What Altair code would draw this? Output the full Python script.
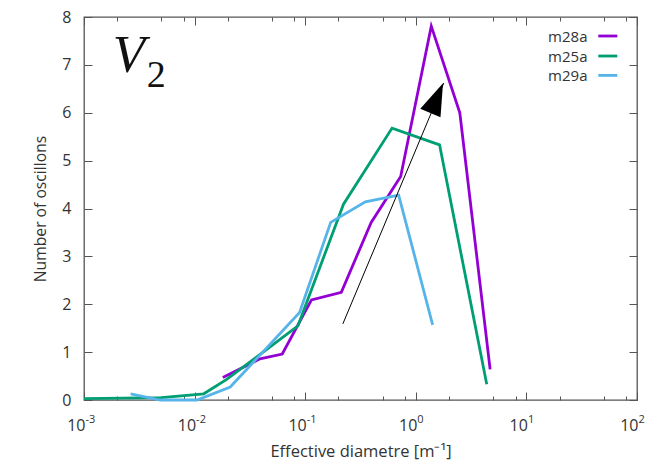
import altair as alt
import pandas as pd

# ---- data ----
series_names = ["m28a", "m25a", "m29a"]
series_colors = ["#9400D3", "#009E73", "#56B4E9"]

m28a_x = [0.0180, 0.039, 0.062, 0.114, 0.212, 0.395, 0.73, 1.38, 2.5, 4.7]
m28a_y = [0.47, 0.86, 0.96, 2.09, 2.25, 3.71, 4.67, 7.81, 6.0, 0.64]

m25a_x = [0.001, 0.005, 0.0121, 0.0195, 0.036, 0.086, 0.222, 0.61, 1.64, 4.38]
m25a_y = [0.03, 0.05, 0.13, 0.43, 0.89, 1.55, 4.09, 5.68, 5.33, 0.33]

m29a_x = [0.00264, 0.0049, 0.0105, 0.021, 0.089, 0.17, 0.35, 0.70, 1.42]
m29a_y = [0.13, 0.0, 0.0, 0.27, 1.83, 3.71, 4.14, 4.28, 1.57]

arrow_start = [0.219, 1.59]
arrow_tip = [1.79, 6.62]
arrow_head_center = [1.545, 6.305]
arrow_angle = 23

x_major = [0.001, 0.01, 0.1, 1, 10, 100]
x_exps = ["-3", "-2", "-1", "0", "1", "2"]
x_minor = [m * d for d in [0.001, 0.01, 0.1, 1, 10] for m in (2, 5, 8)]
y_ticks = [0, 1, 2, 3, 4, 5, 6, 7, 8]

label_V = ["V", 0.001817, 6.847]
label_2 = ["2", 0.00369, 6.53]

# legend key placement (in data units, top-right inside the frame)
legend_text_x = 35.68
legend_text_y = [7.478, 7.060, 6.655]
legend_line_x = [44.67, 66.37]
legend_line_y = [7.603, 7.185, 6.780]

# ---- tables ----
rows = []
for name, xs_, ys_ in zip(series_names, [m28a_x, m25a_x, m29a_x], [m28a_y, m25a_y, m29a_y]):
    for a, b in zip(xs_, ys_):
        rows.append({"series": name, "d": a, "n": b})
df_lines = pd.DataFrame(rows)
df_arrow = pd.DataFrame([{"x0": arrow_start[0], "y0": arrow_start[1], "x1": arrow_tip[0], "y1": arrow_tip[1]}])
df_head = pd.DataFrame([{"hx": arrow_head_center[0], "hy": arrow_head_center[1]}])
df_V = pd.DataFrame([{"t": label_V[0], "x": label_V[1], "y": label_V[2]}])
df_2 = pd.DataFrame([{"t": label_2[0], "x": label_2[1], "y": label_2[2]}])
df_xl = pd.DataFrame({"x": x_major, "base": ["10"] * len(x_major), "exp": x_exps})
df_leg = pd.DataFrame({
    "series": series_names,
    "tx": [legend_text_x] * 3, "ty": legend_text_y,
    "lx0": [legend_line_x[0]] * 3, "lx1": [legend_line_x[1]] * 3, "ly": legend_line_y,
})

FONT = "Open Sans"
TICK = "#555555"
TXT = "#333333"
xs = alt.Scale(type="log", domain=[0.001, 100], nice=False)
ys = alt.Scale(domain=[0, 8], nice=False)
cs = alt.Scale(domain=series_names, range=series_colors)

def tick_axis(orient, values, size, **kw):
    return alt.Axis(orient=orient, values=values, tickSize=size, offset=-size, labels=False,
                    domain=False, grid=False, title=None, tickColor=TICK, tickWidth=1, **kw)

lines = alt.Chart(df_lines).mark_line(strokeWidth=2.8).encode(
    x=alt.X("d:Q", scale=xs,
            axis=alt.Axis(orient="bottom", values=x_major, tickSize=8, offset=-8, labels=False,
                          domain=False, grid=False, tickColor=TICK, tickWidth=1,
                          title="Effective diametre [m⁻¹]", titleFont=FONT, titleFontSize=16.5,
                          titleFontWeight="normal", titleColor=TXT, titlePadding=43)),
    y=alt.Y("n:Q", scale=ys,
            axis=alt.Axis(orient="left", values=y_ticks, tickSize=8, offset=-8, labelPadding=13,
                          domain=False, grid=False, tickColor=TICK, tickWidth=1,
                          labelFont=FONT, labelFontSize=16, labelColor=TXT,
                          title="Number of oscillons", titleFont=FONT, titleFontSize=15.7,
                          titleFontWeight="normal", titleColor=TXT, titlePadding=13)),
    color=alt.Color("series:N", scale=cs, legend=None),
)

arrow = alt.Chart(df_arrow).mark_rule(color="black", strokeWidth=1).encode(
    x=alt.X("x0:Q", scale=xs, axis=tick_axis("bottom", x_minor, 4)),
    x2="x1:Q",
    y=alt.Y("y0:Q", scale=ys, axis=tick_axis("right", y_ticks, 8)),
    y2="y1:Q",
)

head = alt.Chart(df_head).mark_point(
    shape="M0,-1L0.68,1L-0.68,1Z", filled=True, color="black", opacity=1,
    size=1043, angle=arrow_angle, strokeWidth=0
).encode(
    x=alt.X("hx:Q", scale=xs, axis=tick_axis("top", x_major, 8)),
    y=alt.Y("hy:Q", scale=ys, axis=None),
)

vtext = alt.Chart(df_V).mark_text(
    font="Liberation Serif", fontStyle="italic", fontSize=53, align="left",
    baseline="alphabetic", color="#111111"
).encode(
    x=alt.X("x:Q", scale=xs, axis=tick_axis("top", x_minor, 4)),
    y=alt.Y("y:Q", scale=ys, axis=None),
    text="t:N",
)

sub2 = alt.Chart(df_2).mark_text(
    font="Liberation Serif", fontSize=38, align="left", baseline="alphabetic", color="#111111"
).encode(
    x=alt.X("x:Q", scale=xs, axis=None),
    y=alt.Y("y:Q", scale=ys, axis=None),
    text="t:N",
)

xl_base = alt.Chart(df_xl).mark_text(
    font=FONT, fontSize=16, align="right", baseline="alphabetic", dx=1.5, color=TXT
).encode(
    x=alt.X("x:Q", scale=xs, axis=None),
    y=alt.value(413.5),
    text="base:N",
)

xl_exp = alt.Chart(df_xl).mark_text(
    font=FONT, fontSize=11, align="left", baseline="alphabetic", dx=1.5, color=TXT
).encode(
    x=alt.X("x:Q", scale=xs, axis=None),
    y=alt.value(406),
    text="exp:N",
)

leg_lines = alt.Chart(df_leg).mark_rule(strokeWidth=2.8).encode(
    x=alt.X("lx0:Q", scale=xs, axis=None),
    x2="lx1:Q",
    y=alt.Y("ly:Q", scale=ys, axis=None),
    color=alt.Color("series:N", scale=cs, legend=None),
)

leg_text = alt.Chart(df_leg).mark_text(
    font=FONT, fontSize=15, align="right", baseline="alphabetic", color=TXT
).encode(
    x=alt.X("tx:Q", scale=xs, axis=None),
    y=alt.Y("ty:Q", scale=ys, axis=None),
    text="series:N",
)

chart = alt.layer(lines, arrow, head, vtext, sub2, xl_base, xl_exp, leg_lines, leg_text).resolve_axis(
    x="independent", y="independent"
).properties(
    width=553, height=383,
    autosize=alt.AutoSizeParams(type="none"),
    padding={"left": 84, "top": 17, "right": 28, "bottom": 63},
    background="white",
).configure_view(stroke="#555555", strokeWidth=1.3)

chart.save("out.html", embed_options={"renderer": "svg", "actions": False})
